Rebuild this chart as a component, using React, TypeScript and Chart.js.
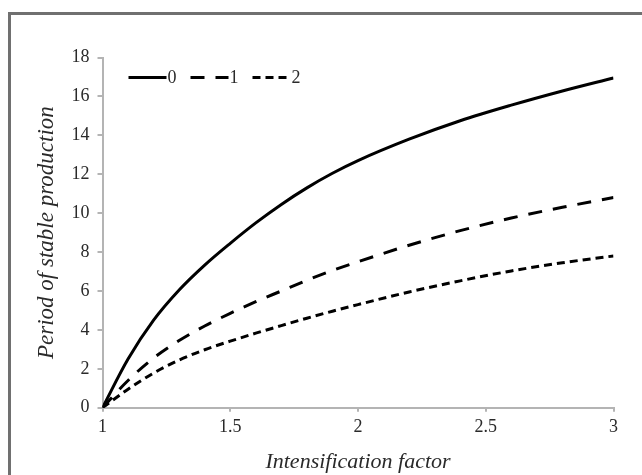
import React, { useEffect, useRef } from "react";
import { Chart, registerables } from "chart.js";

Chart.register(...registerables);

const xValues = [1.0, 1.1, 1.2, 1.3, 1.4, 1.5, 1.6, 1.7, 1.8, 1.9, 2.0, 2.2, 2.4, 2.6, 2.8, 3.0];
const series0 = [0, 2.5, 4.5, 6.05, 7.33, 8.45, 9.5, 10.45, 11.3, 12.05, 12.7, 13.8, 14.75, 15.55, 16.28, 16.95];
const series1 = [0, 1.4, 2.55, 3.45, 4.2, 4.85, 5.45, 6.0, 6.55, 7.05, 7.5, 8.35, 9.1, 9.75, 10.3, 10.8];
const series2 = [0, 0.95, 1.78, 2.45, 2.98, 3.42, 3.83, 4.22, 4.6, 4.96, 5.3, 5.95, 6.52, 7.03, 7.45, 7.8];
const seriesLabels = ["0", "1", "2"];
const xTicks = [1, 1.5, 2, 2.5, 3];
const yTicks = [0, 2, 4, 6, 8, 10, 12, 14, 16, 18];
const xTitle = "Intensification factor";
const yTitle = "Period of stable production";

const FONT = "'Liberation Serif', 'Times New Roman', serif";
const AXIS_COLOR = "#b4b4b4";
const TEXT_COLOR = "#2a2a2a";

const legendPlugin = {
  id: "inlineLegend",
  afterDraw(chart: any) {
    const { ctx, chartArea } = chart;
    let x = chartArea.left + 26;
    const y = chartArea.top + 20;
    ctx.save();
    ctx.font = `18px ${FONT}`;
    ctx.textBaseline = "middle";
    ctx.fillStyle = TEXT_COLOR;
    chart.data.datasets.forEach((ds: any) => {
      ctx.beginPath();
      ctx.setLineDash(ds.borderDash || []);
      ctx.lineWidth = ds.borderWidth;
      ctx.strokeStyle = ds.borderColor;
      ctx.moveTo(x, y);
      ctx.lineTo(x + 38, y);
      ctx.stroke();
      ctx.setLineDash([]);
      ctx.fillText(ds.label, x + 39, y + 1);
      x += 39 + ctx.measureText(ds.label).width + 14;
    });
    ctx.restore();
  },
};

function toPoints(ys: number[]) {
  return xValues.map((x, i) => ({ x, y: ys[i] }));
}

export default function App() {
  const ref = useRef<HTMLCanvasElement>(null);
  useEffect(() => {
    if (!ref.current) return;
    const common = {
      borderColor: "#000",
      borderWidth: 3,
      pointRadius: 0,
      fill: false,
      cubicInterpolationMode: "monotone" as const,
      borderCapStyle: "butt" as const,
    };
    const chart = new Chart(ref.current, {
      type: "line",
      data: {
        datasets: [
          { ...common, label: seriesLabels[0], data: toPoints(series0), borderDash: [] },
          { ...common, label: seriesLabels[1], data: toPoints(series1), borderDash: [14, 11] },
          { ...common, label: seriesLabels[2], data: toPoints(series2), borderDash: [8, 5] },
        ],
      },
      options: {
        animation: false,
        responsive: false,
        layout: { padding: { left: 33, top: 57.5, right: 28.5, bottom: 0 } },
        plugins: { legend: { display: false }, tooltip: { enabled: false } },
        scales: {
          x: {
            type: "linear",
            min: 1,
            max: 3,
            afterBuildTicks: (s: any) => {
              s.ticks = xTicks.map((v) => ({ value: v }));
            },
            afterFit: (s: any) => {
              s.height = 67.3;
            },
            ticks: {
              font: { family: FONT, size: 18 },
              color: TEXT_COLOR,
              padding: 5,
              maxRotation: 0,
              callback: (v: any) => String(v),
            },
            grid: {
              display: true,
              drawOnChartArea: false,
              drawTicks: true,
              tickLength: 4,
              color: AXIS_COLOR,
              lineWidth: 2,
            },
            border: { display: true, color: AXIS_COLOR, width: 2 },
            title: {
              display: true,
              text: xTitle,
              font: { family: FONT, size: 22, style: "italic" },
              color: TEXT_COLOR,
              padding: { top: 0, bottom: 0 },
            },
          },
          y: {
            type: "linear",
            min: 0,
            max: 18,
            afterBuildTicks: (s: any) => {
              s.ticks = yTicks.map((v) => ({ value: v }));
            },
            afterFit: (s: any) => {
              s.width = 69.5;
            },
            ticks: {
              font: { family: FONT, size: 18 },
              color: TEXT_COLOR,
              padding: 8,
              callback: (v: any) => String(v),
            },
            grid: {
              display: true,
              drawOnChartArea: false,
              drawTicks: true,
              tickLength: 5,
              color: AXIS_COLOR,
              lineWidth: 2,
            },
            border: { display: true, color: AXIS_COLOR, width: 2 },
            title: {
              display: true,
              text: yTitle,
              font: { family: FONT, size: 23, style: "italic" },
              color: TEXT_COLOR,
              padding: { top: 0, bottom: 0 },
            },
          },
        },
      },
      plugins: [legendPlugin],
    });
    return () => chart.destroy();
  }, []);

  return (
    <div style={{ position: "absolute", left: 0, top: 0, width: 642, height: 475, overflow: "hidden", background: "#fff" }}>
      <div
        style={{
          position: "absolute",
          left: 8,
          top: 12,
          width: 700,
          height: 600,
          border: "3px solid #707070",
        }}
      />
      <canvas
        ref={ref}
        width={642}
        height={475}
        style={{ position: "absolute", left: 0, top: 0, width: 642, height: 475 }}
      />
    </div>
  );
}
